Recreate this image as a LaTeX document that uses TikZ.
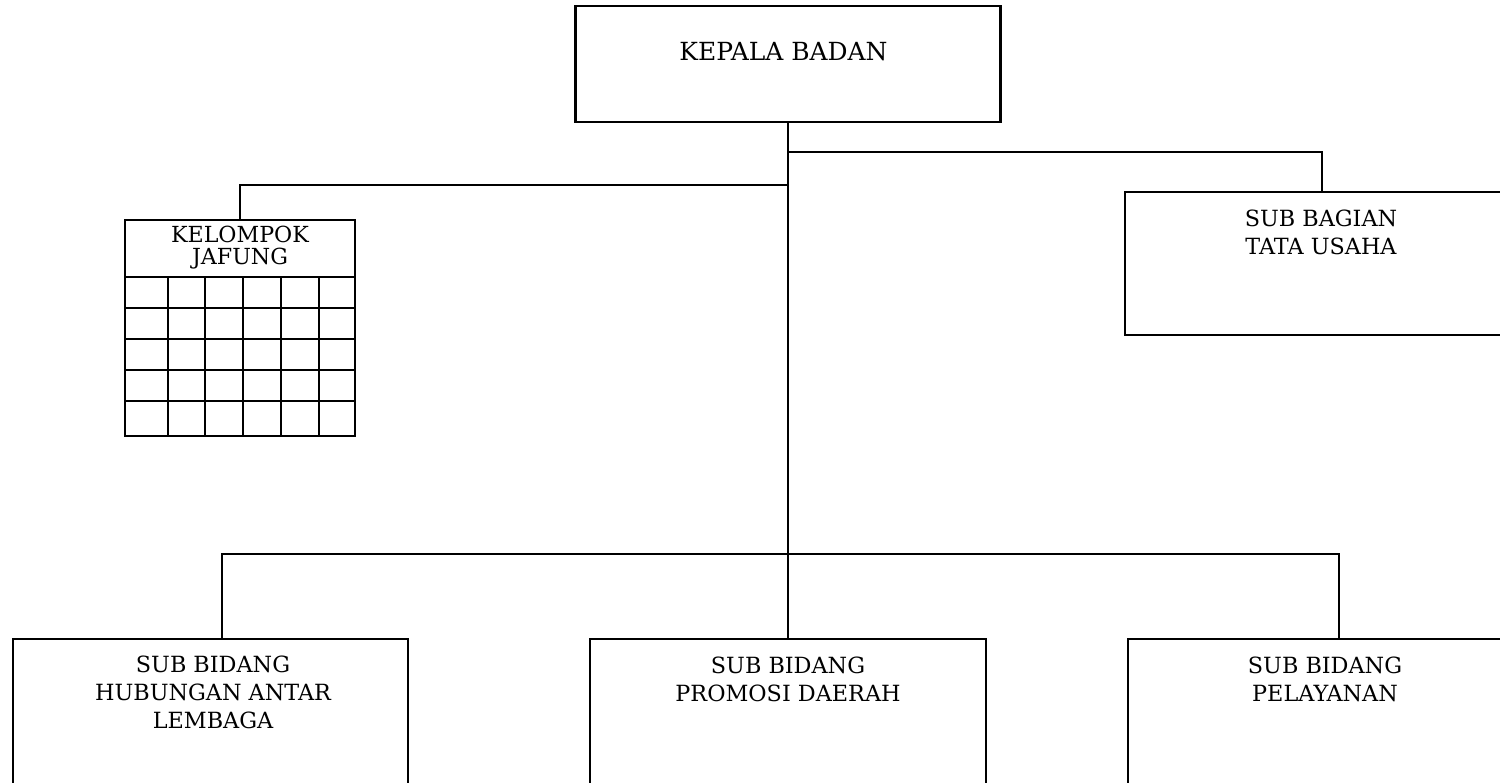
\documentclass[tikz,border=0pt]{standalone}
\usepackage{fontspec}
\setmainfont{DejaVu Serif}
\usetikzlibrary{calc}
\tikzset{
  unitbox/.style={draw=black, line width=1.2pt, inner sep=0pt},
  unitlabel/.style={font=\fontsize{12.7}{16}\selectfont, align=center, inner sep=0pt},
  headlabel/.style={font=\fontsize{14.2}{16}\selectfont, align=center, inner sep=0pt},
  jafunglabel/.style={font=\fontsize{12.6}{12.6}\selectfont, align=center, inner sep=0pt},
  link/.style={line width=1.2pt, draw=black},
  gridline/.style={line width=1.2pt, draw=black},
}

\begin{document}
\begin{tikzpicture}
\useasboundingbox (0,0) rectangle (30.0,15.64);
\clip (0,0) rectangle (30.0,15.64);
\node[unitbox, minimum width=8.50cm, minimum height=2.32cm] (kb) at (15.76,14.36) {};
\node[headlabel] (kbt) at (15.67,14.60) {KEPALA BADAN};
\node[unitbox, minimum width=7.88cm, minimum height=2.86cm] (tu) at (26.44,10.37) {};
\node[unitlabel] (tut) at (26.42,10.99) {SUB BAGIAN\\TATA USAHA};
\node[unitbox, minimum width=4.60cm, minimum height=4.32cm] (jf) at (4.80,9.08) {};
\node[jafunglabel] (jft) at (4.80,10.68) {KELOMPOK\\JAFUNG};
\draw[gridline] (2.50,10.10) -- (7.10,10.10);
\draw[gridline] (2.50,9.48) -- (7.10,9.48);
\draw[gridline] (2.50,8.86) -- (7.10,8.86);
\draw[gridline] (2.50,8.24) -- (7.10,8.24);
\draw[gridline] (2.50,7.62) -- (7.10,7.62);
\draw[gridline] (3.36,10.10) -- (3.36,6.92);
\draw[gridline] (4.10,10.10) -- (4.10,6.92);
\draw[gridline] (4.86,10.10) -- (4.86,6.92);
\draw[gridline] (5.62,10.10) -- (5.62,6.92);
\draw[gridline] (6.38,10.10) -- (6.38,6.92);
\node[unitbox, minimum width=7.90cm, minimum height=3.36cm] (hal) at (4.21,1.18) {};
\node[unitlabel] (halt) at (4.26,1.79) {SUB BIDANG\\HUBUNGAN ANTAR\\LEMBAGA};
\node[unitbox, minimum width=7.92cm, minimum height=3.36cm] (pd) at (15.76,1.18) {};
\node[unitlabel] (pdt) at (15.76,2.06) {SUB BIDANG\\PROMOSI DAERAH};
\node[unitbox, minimum width=8.44cm, minimum height=3.36cm] (pl) at (26.78,1.18) {};
\node[unitlabel] (plt) at (26.50,2.06) {SUB BIDANG\\PELAYANAN};
\coordinate (jtu) at (15.76,12.60);
\coordinate (jjf) at (15.76,11.94);
\coordinate (jbus) at (15.76,4.56);
\draw[link] (kb.south) -- (jbus);
\draw[link] (jtu) -| (tu.north);
\draw[link] (jjf) -| (jf.north);
\draw[link] (jbus) -| ($(hal.north)+(0.23,0)$);
\draw[link] (jbus) -- (pd.north);
\draw[link] (jbus) -| (pl.north);
\end{tikzpicture}
\end{document}
